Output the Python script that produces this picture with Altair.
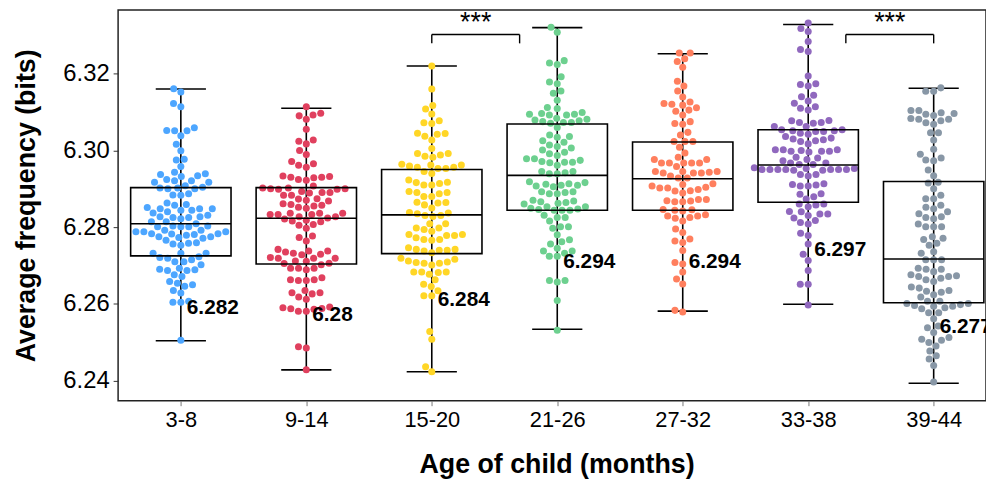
import json
import math
import altair as alt
import pandas as pd

# ---------------- data ----------------
categories = ["3-8", "9-14", "15-20", "21-26", "27-32", "33-38", "39-44"]
colors = ["#4DA6FF", "#E0405E", "#FFD626", "#6DD08F", "#FF7F5E", "#9068BE", "#8897A6"]

g_3_8 = [6.3161, 6.3152, 6.3122, 6.3114, 6.3059, 6.3051, 6.3051, 6.3052, 6.3038, 6.3016, 6.2999, 6.2975,
         6.2977, 6.2958, 6.2939, 6.2934, 6.2937, 6.2943, 6.2932, 6.2921, 6.2917, 6.2917, 6.2921, 6.2924,
         6.2908, 6.2902, 6.2900, 6.2904, 6.2900, 6.2902, 6.2887, 6.2883, 6.2884, 6.2863, 6.2857, 6.2859,
         6.2848, 6.2844, 6.2840, 6.2844, 6.2848, 6.2851, 6.2848, 6.2825, 6.2822, 6.2827, 6.2831, 6.2827,
         6.2825, 6.2837, 6.2803, 6.2801, 6.2801, 6.2803, 6.2809, 6.2814, 6.2814, 6.2801, 6.2788, 6.2782,
         6.2779, 6.2788, 6.2783, 6.2788, 6.2792, 6.2792, 6.2781, 6.2783, 6.2771, 6.2775, 6.2766, 6.2773,
         6.2775, 6.2756, 6.2753, 6.2758, 6.2759, 6.2732, 6.2732, 6.2732, 6.2723, 6.2715, 6.2719, 6.2710,
         6.2710, 6.2721, 6.2689, 6.2693, 6.2702, 6.2687, 6.2687, 6.2690, 6.2676, 6.2671, 6.2658, 6.2654,
         6.2646, 6.2650, 6.2635, 6.2628, 6.2604, 6.2604, 6.2607, 6.2505]
g_9_14 = [6.3114, 6.3097, 6.3090, 6.3092, 6.3081, 6.3055, 6.3024, 6.3027, 6.3017, 6.3000, 6.2989, 6.2971,
          6.2965, 6.2956, 6.2961, 6.2932, 6.2930, 6.2929, 6.2922, 6.2924, 6.2930, 6.2933, 6.2902, 6.2900,
          6.2893, 6.2907, 6.2899, 6.2900, 6.2899, 6.2902, 6.2889, 6.2883, 6.2890, 6.2883, 6.2890, 6.2870,
          6.2859, 6.2874, 6.2868, 6.2873, 6.2861, 6.2857, 6.2852, 6.2849, 6.2855, 6.2836, 6.2833, 6.2827,
          6.2821, 6.2833, 6.2836, 6.2836, 6.2824, 6.2827, 6.2833, 6.2816, 6.2818, 6.2807, 6.2814, 6.2805,
          6.2797, 6.2777, 6.2764, 6.2773, 6.2735, 6.2738, 6.2738, 6.2732, 6.2729, 6.2742, 6.2728, 6.2711,
          6.2719, 6.2721, 6.2712, 6.2719, 6.2719, 6.2706, 6.2702, 6.2693, 6.2689, 6.2693, 6.2693, 6.2705,
          6.2668, 6.2661, 6.2661, 6.2663, 6.2663, 6.2635, 6.2629, 6.2626, 6.2629, 6.2618, 6.2612, 6.2588,
          6.2586, 6.2581, 6.2581, 6.2587, 6.2590, 6.2592, 6.2488, 6.2485, 6.2428]
g_15_20 = [6.3220, 6.3160, 6.3108, 6.3117, 6.3095, 6.3072, 6.3070, 6.3077, 6.3045, 6.3037, 6.3042, 6.3044,
           6.3027, 6.3005, 6.2992, 6.2988, 6.2985, 6.2982, 6.2992, 6.2962, 6.2956, 6.2945, 6.2959, 6.2956,
           6.2953, 6.2953, 6.2962, 6.2964, 6.2940, 6.2917, 6.2916, 6.2910, 6.2923, 6.2910, 6.2914, 6.2890,
           6.2880, 6.2893, 6.2880, 6.2887, 6.2890, 6.2863, 6.2850, 6.2864, 6.2858, 6.2865, 6.2835, 6.2830,
           6.2828, 6.2830, 6.2837, 6.2838, 6.2809, 6.2798, 6.2809, 6.2789, 6.2794, 6.2798, 6.2781, 6.2772,
           6.2766, 6.2768, 6.2768, 6.2778, 6.2778, 6.2781, 6.2746, 6.2740, 6.2738, 6.2733, 6.2740, 6.2742,
           6.2742, 6.2716, 6.2709, 6.2706, 6.2701, 6.2706, 6.2708, 6.2712, 6.2719, 6.2683, 6.2682, 6.2677,
           6.2683, 6.2683, 6.2663, 6.2645, 6.2651, 6.2621, 6.2621, 6.2634, 6.2528, 6.2508, 6.2436, 6.2423]
g_21_26 = [6.3321, 6.3308, 6.3228, 6.3224, 6.3234, 6.3192, 6.3174, 6.3178, 6.3149, 6.3155, 6.3131, 6.3112,
           6.3109, 6.3096, 6.3094, 6.3084, 6.3092, 6.3092, 6.3094, 6.3099, 6.3077, 6.3075, 6.3073, 6.3060,
           6.3073, 6.3071, 6.3079, 6.3081, 6.3040, 6.3036, 6.3025, 6.3034, 6.3021, 6.3010, 6.3006, 6.3014,
           6.3001, 6.2987, 6.2995, 6.2991, 6.2974, 6.2969, 6.2968, 6.2978, 6.2969, 6.2971, 6.2978, 6.2939,
           6.2945, 6.2945, 6.2942, 6.2939, 6.2961, 6.2912, 6.2907, 6.2913, 6.2918, 6.2909, 6.2909, 6.2916,
           6.2905, 6.2892, 6.2890, 6.2887, 6.2887, 6.2892, 6.2870, 6.2864, 6.2866, 6.2862, 6.2868, 6.2853,
           6.2860, 6.2847, 6.2844, 6.2844, 6.2849, 6.2844, 6.2846, 6.2853, 6.2816, 6.2831, 6.2825, 6.2825,
           6.2801, 6.2797, 6.2801, 6.2780, 6.2756, 6.2762, 6.2767, 6.2745, 6.2738, 6.2724, 6.2724, 6.2732,
           6.2738, 6.2661, 6.2657, 6.2661, 6.2609, 6.2531]
g_27_32 = [6.3254, 6.3254, 6.3232, 6.3239, 6.3217, 6.3180, 6.3168, 6.3155, 6.3139, 6.3111, 6.3122, 6.3118,
           6.3120, 6.3126, 6.3102, 6.3105, 6.3092, 6.3070, 6.3068, 6.3075, 6.3047, 6.3040, 6.3023, 6.3023,
           6.3023, 6.2993, 6.3008, 6.2982, 6.2976, 6.2967, 6.2958, 6.2976, 6.2967, 6.2967, 6.2967, 6.2967,
           6.2941, 6.2928, 6.2945, 6.2943, 6.2945, 6.2945, 6.2941, 6.2941, 6.2933, 6.2928, 6.2904, 6.2895,
           6.2894, 6.2902, 6.2911, 6.2913, 6.2898, 6.2902, 6.2907, 6.2866, 6.2872, 6.2872, 6.2868, 6.2866,
           6.2869, 6.2889, 6.2845, 6.2829, 6.2844, 6.2825, 6.2842, 6.2829, 6.2832, 6.2846, 6.2823, 6.2816,
           6.2795, 6.2786, 6.2760, 6.2764, 6.2769, 6.2739, 6.2708, 6.2704, 6.2683, 6.2665, 6.2652, 6.2583,
           6.2579]
g_33_38 = [6.3332, 6.3318, 6.3310, 6.3284, 6.3263, 6.3258, 6.3194, 6.3172, 6.3168, 6.3174, 6.3144, 6.3140,
           6.3129, 6.3123, 6.3105, 6.3110, 6.3114, 6.3077, 6.3073, 6.3071, 6.3073, 6.3078, 6.3062, 6.3051,
           6.3051, 6.3036, 6.3049, 6.3045, 6.3049, 6.3042, 6.3054, 6.3054, 6.3062, 6.3032, 6.3025, 6.3023,
           6.3028, 6.3030, 6.3002, 6.2998, 6.2998, 6.3002, 6.3017, 6.2996, 6.3002, 6.2998, 6.3000, 6.2982,
           6.2976, 6.2980, 6.2967, 6.2963, 6.2963, 6.2967, 6.2973, 6.2953, 6.2950, 6.2950, 6.2950, 6.2950,
           6.2950, 6.2953, 6.2950, 6.2948, 6.2948, 6.2950, 6.2955, 6.2937, 6.2933, 6.2937, 6.2913, 6.2907,
           6.2907, 6.2910, 6.2911, 6.2879, 6.2886, 6.2887, 6.2873, 6.2858, 6.2853, 6.2860, 6.2860, 6.2841,
           6.2830, 6.2834, 6.2834, 6.2840, 6.2824, 6.2808, 6.2812, 6.2817, 6.2784, 6.2778, 6.2756, 6.2729,
           6.2713, 6.2687, 6.2651, 6.2651, 6.2597]
g_39_44 = [6.3154, 6.3154, 6.3163, 6.3104, 6.3098, 6.3091, 6.3094, 6.3104, 6.3083, 6.3081, 6.3072, 6.3077,
           6.3081, 6.3096, 6.3068, 6.3046, 6.3046, 6.3027, 6.3003, 6.2990, 6.2975, 6.2973, 6.2980, 6.2949,
           6.2934, 6.2917, 6.2915, 6.2900, 6.2874, 6.2874, 6.2883, 6.2852, 6.2857, 6.2848, 6.2835, 6.2840,
           6.2822, 6.2827, 6.2825, 6.2808, 6.2801, 6.2801, 6.2801, 6.2775, 6.2771, 6.2768, 6.2758, 6.2753,
           6.2736, 6.2732, 6.2715, 6.2715, 6.2715, 6.2690, 6.2684, 6.2690, 6.2693, 6.2671, 6.2667, 6.2663,
           6.2658, 6.2671, 6.2673, 6.2676, 6.2635, 6.2630, 6.2641, 6.2644, 6.2633, 6.2624, 6.2618, 6.2607,
           6.2598, 6.2594, 6.2590, 6.2587, 6.2601, 6.2594, 6.2596, 6.2601, 6.2607, 6.2577, 6.2577, 6.2561,
           6.2538, 6.2542, 6.2525, 6.2505, 6.2512, 6.2499, 6.2508, 6.2490, 6.2477, 6.2465, 6.2456, 6.2439,
           6.2396]
groups = [g_3_8, g_9_14, g_15_20, g_21_26, g_27_32, g_33_38, g_39_44]

# box statistics
q1 = [6.2725, 6.2704, 6.2731, 6.2844, 6.2844, 6.2865, 6.2603]
median = [6.2809, 6.2823, 6.2832, 6.2935, 6.2926, 6.2962, 6.2717]
q3 = [6.2903, 6.2903, 6.2950, 6.3069, 6.3022, 6.3054, 6.2919]
whisker_lo = [6.2504, 6.2428, 6.2423, 6.2534, 6.2581, 6.2599, 6.2393]
whisker_hi = [6.3160, 6.3110, 6.3220, 6.3320, 6.3252, 6.3328, 6.3162]

# mean labels
mean_vals = [6.282, 6.280, 6.284, 6.294, 6.294, 6.297, 6.277]
mean_text = ["6.282", "6.28", "6.284", "6.294", "6.294", "6.297", "6.277"]

# significance brackets (from, to in category positions)
bracket_from = [2.0, 5.3]
bracket_to = [2.7, 6.0]
bracket_text = ["***", "***"]

# ---------------- layout constants ----------------
Y_DOMAIN = [6.23475, 6.33662]
X_DOMAIN = [-0.5, 6.417]
W, H = 875, 394
PX_X = W / (X_DOMAIN[1] - X_DOMAIN[0])
PX_Y = H / (Y_DOMAIN[1] - Y_DOMAIN[0])
DIAM = 8.0
FONT = "Liberation Sans"


def swarm_offsets(vals):
    ys = [v * PX_Y for v in vals]
    order = sorted(range(len(ys)), key=lambda i: ys[i])
    placed = []
    xs = [0.0] * len(ys)
    for i in order:
        y = ys[i]
        nb = [(px, py) for px, py in placed if abs(py - y) < DIAM]
        cands = [0.0]
        for px, py in nb:
            dx = math.sqrt(max(DIAM * DIAM - (py - y) ** 2, 0))
            cands += [px - dx, px + dx]
        cands.sort(key=lambda c: (abs(c), c))
        for c in cands:
            if all((c - px) ** 2 + (y - py) ** 2 >= DIAM * DIAM - 1e-6 for px, py in nb):
                xs[i] = c
                break
        placed.append((xs[i], y))
    return xs


rows = []
for gi, vals in enumerate(groups):
    offs = swarm_offsets(vals)
    for v, o in zip(vals, offs):
        rows.append({"cat": categories[gi], "xpos": gi + o / PX_X, "value": v})
pts = pd.DataFrame(rows)

box = pd.DataFrame({
    "idx": list(range(len(categories))),
    "q1": q1, "median": median, "q3": q3, "lo": whisker_lo, "hi": whisker_hi,
    "mean": mean_vals, "label": mean_text,
})
br = pd.DataFrame({"a": bracket_from, "b": bracket_to, "t": bracket_text})

xscale = alt.Scale(domain=X_DOMAIN, nice=False, zero=False)
yscale = alt.Scale(domain=Y_DOMAIN, nice=False, zero=False)
label_expr = json.dumps(categories) + "[datum.value]"

x_axis = alt.Axis(values=list(range(len(categories))), labelExpr=label_expr, grid=False,
                  title="Age of child (months)", tickSize=5, tickColor="#777", labelPadding=4,
                  titlePadding=21, titleX=442, titleAlign="center")
y_axis = alt.Axis(values=[6.24, 6.26, 6.28, 6.30, 6.32], format=".2f", grid=False,
                  title="Average frequency (bits)", tickSize=5, tickColor="#333",
                  labelPadding=4, titlePadding=23)

base = alt.Chart(box)

errbar = base.mark_rule(color="black", strokeWidth=1.6).encode(
    x=alt.X("idx:Q", scale=xscale, axis=x_axis),
    y=alt.Y("lo:Q", scale=yscale, axis=y_axis),
    y2="hi:Q",
)
caps_lo = base.transform_calculate(xa="datum.idx - 0.2", xb="datum.idx + 0.2").mark_rule(
    color="black", strokeWidth=1.6).encode(
    x=alt.X("xa:Q", scale=xscale), x2="xb:Q", y=alt.Y("lo:Q", scale=yscale))
caps_hi = base.transform_calculate(xa="datum.idx - 0.2", xb="datum.idx + 0.2").mark_rule(
    color="black", strokeWidth=1.6).encode(
    x=alt.X("xa:Q", scale=xscale), x2="xb:Q", y=alt.Y("hi:Q", scale=yscale))

points = alt.Chart(pts).mark_circle(size=50, opacity=1).encode(
    x=alt.X("xpos:Q", scale=xscale),
    y=alt.Y("value:Q", scale=yscale),
    color=alt.Color("cat:N", scale=alt.Scale(domain=categories, range=colors), legend=None),
)

boxes = base.transform_calculate(xa="datum.idx - 0.4", xb="datum.idx + 0.4").mark_rect(
    fillOpacity=0, stroke="black", strokeWidth=1.6).encode(
    x=alt.X("xa:Q", scale=xscale), x2="xb:Q",
    y=alt.Y("q1:Q", scale=yscale), y2="q3:Q")
med = base.transform_calculate(xa="datum.idx - 0.4", xb="datum.idx + 0.4").mark_rule(
    color="black", strokeWidth=1.6).encode(
    x=alt.X("xa:Q", scale=xscale), x2="xb:Q", y=alt.Y("median:Q", scale=yscale))

labels = base.transform_calculate(ly="datum.mean - 0.023").mark_text(
    align="left", baseline="middle", dx=6, font=FONT, fontSize=21, fontWeight="bold",
    color="black").encode(
    x=alt.X("idx:Q", scale=xscale), y=alt.Y("ly:Q", scale=yscale), text="label:N")

bb = alt.Chart(br)
br_h = bb.mark_rule(color="black", strokeWidth=1.4).encode(
    x=alt.X("a:Q", scale=xscale), x2="b:Q", y=alt.datum(6.3302, scale=yscale))
br_l = bb.mark_rule(color="black", strokeWidth=1.4).encode(
    x=alt.X("a:Q", scale=xscale), y=alt.datum(6.3302, scale=yscale), y2=alt.datum(6.3279))
br_r = bb.mark_rule(color="black", strokeWidth=1.4).encode(
    x=alt.X("b:Q", scale=xscale), y=alt.datum(6.3302, scale=yscale), y2=alt.datum(6.3279))
stars = bb.transform_calculate(mx="(datum.a + datum.b) / 2").mark_text(
    font=FONT, fontSize=27, baseline="middle", align="center", color="black").encode(
    x=alt.X("mx:Q", scale=xscale), y=alt.datum(6.3333, scale=yscale), text="t:N")

chart = alt.layer(errbar, caps_lo, caps_hi, points, boxes, med, labels, br_h, br_l, br_r, stars).properties(
    width=W, height=H,
    autosize=alt.AutoSizeParams(type="none"),
    padding={"left": 111, "top": 0, "right": 0, "bottom": 78},
).configure_view(stroke="#222", strokeWidth=1.5).configure_axis(
    domain=False, labelFont=FONT, titleFont=FONT, labelColor="black", titleColor="black",
    labelFontSize=22, titleFontSize=27, titleFontWeight="bold",
).configure_axisY(labelFontSize=24)

chart.save("out.html", embed_options={"renderer": "svg", "actions": False})
